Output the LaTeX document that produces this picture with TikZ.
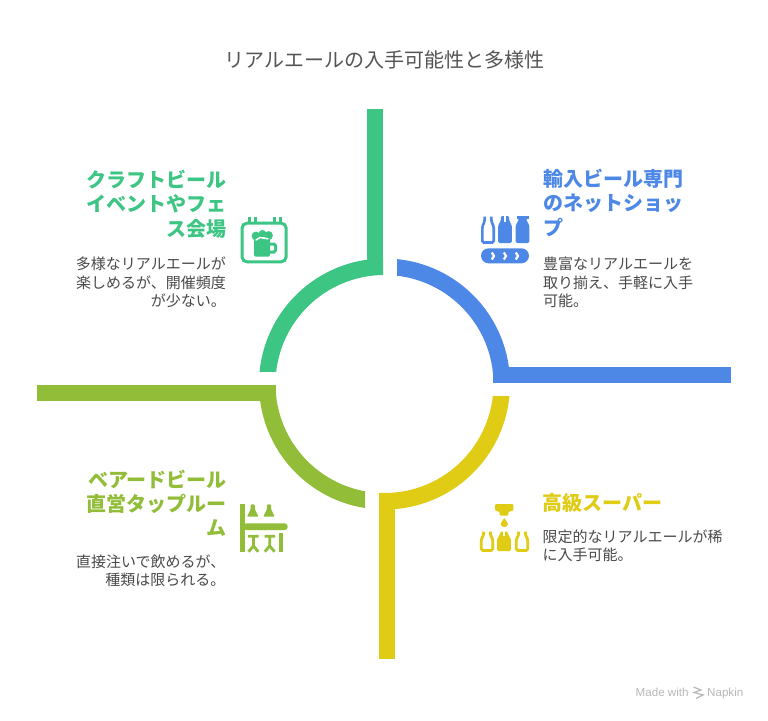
\documentclass[tikz,border=0pt]{standalone}
\usepackage{fontspec}
\setmainfont{Noto Sans CJK JP}
\newfontfamily\latinfont{Liberation Sans}
\definecolor{cgreen}{HTML}{3DC583}
\definecolor{cblue}{HTML}{4E88E7}
\definecolor{colive}{HTML}{92BD39}
\definecolor{cyellow}{HTML}{E0CB15}
\definecolor{ctext}{HTML}{4A4A4A}
\definecolor{ctitle}{HTML}{555555}
\tikzset{
  headfont/.style={font=\fontsize{20}{24.3}\selectfont\bfseries, inner sep=0pt},
  bodyfont/.style={font=\fontsize{15}{18.2}\selectfont, text=ctext, inner sep=0pt},
  headR/.style={headfont, anchor=north east, align=right},
  headL/.style={headfont, anchor=north west, align=left},
  bodyR/.style={bodyfont, anchor=north east, align=right},
  bodyL/.style={bodyfont, anchor=north west, align=left},
  bottle/.pic={\path[pic actions, rounded corners=1.4] (-3.4,0) -- (-3.4,5) -- (-5.7,10) -- (-5.7,26) -- (5.7,26) -- (5.7,10) -- (3.4,5) -- (3.4,0);},
  fullbottle/.pic={\path[pic actions, rounded corners=1.4] (-4.2,0) -- (-4.2,5) -- (-6.8,9) -- (-6.8,27) -- (6.8,27) -- (6.8,9) -- (4.2,5) -- (4.2,0) -- cycle;}
}
\newcommand{\ring}[5]{%
  \begin{scope}
    \clip (#2,#3) rectangle (#4,#5);
    \fill[#1, even odd rule] (384.5,384) circle[radius=125.5] (384.5,384) circle[radius=109];
  \end{scope}}
\begin{document}
\begin{tikzpicture}[x=1pt,y=-1pt]
\useasboundingbox (0,0) rectangle (768,720);
\fill[white] (0,0) rectangle (768,720);

\node[font=\fontsize{20}{24}\selectfont, text=ctitle, inner sep=0pt] (title) at (384.5,60) {リアルエールの入手可能性と多様性};

% ring segments and arms
\ring{cgreen}{240}{240}{383}{371}
\fill[cgreen] (367,109) rectangle (383,275);
\ring{cblue}{397}{240}{530}{382.7}
\fill[cblue] (492.7,366.7) rectangle (731,382.7);
\ring{colive}{240}{385}{365}{530}
\fill[colive] (37,385) rectangle (275.5,400.7);
\ring{cyellow}{379}{396.7}{530}{530}
\fill[cyellow] (379,492.7) rectangle (395,659);

% text
\node[headR, text=cgreen] (h1) at (227,170) {クラフトビール\\イベントやフェ\\ス会場};
\node[bodyR] (b1) at (226,257) {多様なリアルエールが\\楽しめるが、開催頻度\\が少ない。};
\node[headL, text=cblue] (h2) at (543,169) {輸入ビール専門\\のネットショッ\\プ};
\node[bodyL] (b2) at (543,257) {豊富なリアルエールを\\取り揃え、手軽に入手\\可能。};
\node[headR, text=colive] (h3) at (227,469.5) {ベアードビール\\直営タップルー\\ム};
\node[bodyR] (b3) at (225.5,554.5) {直接注いで飲めるが、\\種類は限られる。};
\node[headL, text=cyellow] (h4) at (542.5,493) {高級スーパー};
\node[bodyL] (b4) at (542.5,529.5) {限定的なリアルエールが稀\\に入手可能。};

% calendar + beer icon
\draw[cgreen, line width=3, rounded corners=5] (242,223.2) rectangle (286.2,261.8);
\foreach \tx in {249.5,255.5,274.5,280.5}
  \draw[cgreen, line width=2.4] (\tx,216.5) -- (\tx,223);
\fill[cgreen, rounded corners=1.5] (254,238) rectangle (270,256.5);
\draw[cgreen, line width=3, rounded corners=1.5] (270,244) -- (275.5,244) -- (275.5,252) -- (270,252);
\fill[cgreen] (256,236) circle[radius=4.4] (262.5,233.8) circle[radius=3.8] (268.5,235.5) circle[radius=4.4];
\draw[white, line width=1.5, line cap=round] (256,240) -- (260,237.5) -- (268,238.8);

% bottles + conveyor icon
\pic[draw=cblue, line width=2.6] at (488,216.5) {bottle};
\pic[fill=cblue] at (505,216) {fullbottle};
\draw[white, line width=1.6] (505,215.5) -- (505,222);
\pic[fill=cblue] at (522.5,216) {fullbottle};
\fill[cblue] (516.5,216) rectangle (528.5,219);
\fill[white] (516,219.2) rectangle (518.2,221) (526.8,219.2) rectangle (529,221);
\fill[cblue, rounded corners=7.5] (481,248.3) rectangle (529,263.3);
\foreach \cx in {493,505,517}
  \draw[white, line width=2.2] (\cx-1.2,252.5) -- (\cx+1,256) -- (\cx-1.2,259.5);

% bar icon
\fill[colive] (240.3,504.3) rectangle (245,551.7);
\fill[colive, rounded corners=3] (243,523.3) rectangle (287.7,530);
\foreach \gx in {252.7,269}{
  \fill[colive, rounded corners=1] (\gx-2,504.3) -- (\gx+2,504.3) -- (\gx+2.2,509.5) -- (\gx+5.8,516.7) -- (\gx-5.8,516.7) -- (\gx-2.2,509.5) -- cycle;
  \draw[colive, line width=2.8] (\gx-4.5,536.2) -- (\gx+6,536.2) (\gx+.7,536.2) -- (\gx+.7,546) (\gx-4.2,551.7) -- (\gx+.7,546) -- (\gx+5.6,551.7);
}
\fill[colive] (279.3,533) rectangle (282.7,551.7);

% tap + bottles icon
\fill[cyellow, rounded corners=1] (495,504) -- (513.3,504) -- (513.3,510.5) -- (508.3,512) -- (508.3,515.5) -- (499.7,515.5) -- (499.7,512) -- (495,510.5) -- cycle;
\fill[cyellow] (504.3,518) .. controls (505.3,520.5) and (508,522) .. (508,524) .. controls (508,528) and (500.6,528) .. (500.6,524) .. controls (500.6,522) and (503.3,520.5) .. (504.3,518) -- cycle;
\pic[draw=cyellow, line width=2.8, yscale=.72] at (487,531.7) {bottle};
\pic[fill=cyellow, yscale=.72] at (504,531.7) {fullbottle};
\draw[white, line width=1.5] (504,531) -- (504,535.5);
\pic[draw=cyellow, line width=2.8, yscale=.72] at (522,531.7) {bottle};

% footer
\node[font=\latinfont\fontsize{11.6}{13}\selectfont, text=black!28, anchor=base west, inner sep=0pt] (made) at (635.5,696.5) {Made with};
\node[font=\latinfont\fontsize{11.6}{13}\selectfont, text=black!28, anchor=base west, inner sep=0pt] (napkin) at (707,696.5) {Napkin};
\draw[black!28, line width=1.2] (693.5,687) -- (701,690) -- (694,692.5) -- (703,695) -- (696,698.5);
\end{tikzpicture}
\end{document}
